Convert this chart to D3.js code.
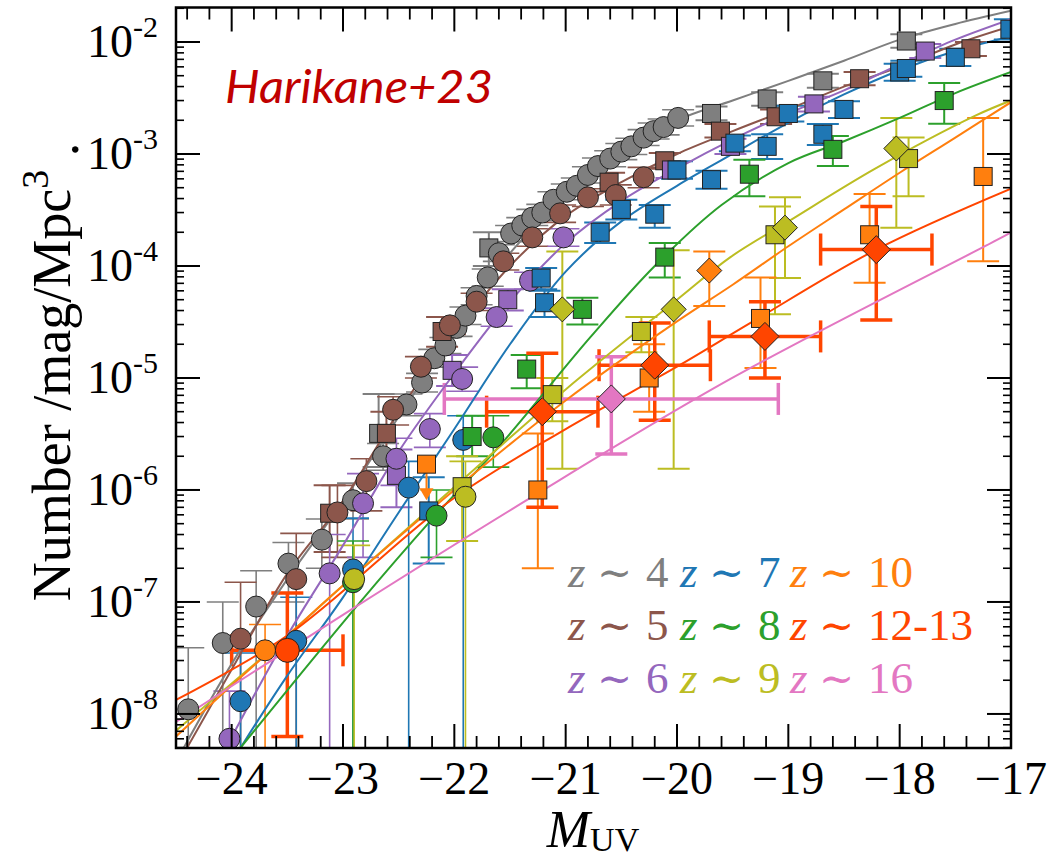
<!DOCTYPE html>
<html>
<head>
<meta charset="utf-8">
<script src="https://cdn.jsdelivr.net/npm/d3@7"></script>
<style>
  body { margin: 0; background: #fff; }
  svg { display: block; }
</style>
</head>
<body>
<svg id="chart" width="1051" height="860"></svg>
<script>
// UV luminosity functions, z~4 to z~16
// rows: [M_UV, phi, phi_lo, phi_hi]  (phi_lo = 0 -> bar runs off the bottom)

const z4Circles = [
  [-24.39, 1.1e-8, 0, 3.9e-8], [-24.08, 4.3e-8, 0, 1.0e-7], [-23.78, 9.1e-8, 0, 1.9e-7],
  [-23.49, 2.2e-7, 1.0e-7, 3.4e-7], [-23.19, 3.6e-7, 2.0e-7, 5.5e-7], [-22.91, 8.1e-7, 5.5e-7, 1.15e-6],
  [-22.64, 2.0e-6, 1.5e-6, 2.6e-6], [-22.43, 5.8e-6, 4.6e-6, 7.2e-6], [-22.29, 9.1e-6, 7.5e-6, 1.1e-5],
  [-22.18, 1.5e-5, 1.25e-5, 1.8e-5], [-22.08, 1.95e-5, 1.65e-5, 2.3e-5], [-21.98, 2.8e-5, 2.35e-5, 3.3e-5],
  [-21.90, 3.6e-5, 3.0e-5, 4.3e-5], [-21.80, 5.4e-5, 4.5e-5, 6.4e-5], [-21.70, 7.9e-5, 6.6e-5, 9.4e-5],
  [-21.60, 1.3e-4, 1.1e-4, 1.55e-4], [-21.49, 1.95e-4, 1.65e-4, 2.3e-4], [-21.39, 2.3e-4, 1.95e-4, 2.7e-4],
  [-21.30, 2.7e-4, 2.3e-4, 3.2e-4], [-21.21, 3.0e-4, 2.55e-4, 3.55e-4], [-21.11, 3.9e-4, 3.3e-4, 4.6e-4],
  [-20.99, 4.6e-4, 3.9e-4, 5.4e-4], [-20.90, 5.2e-4, 4.4e-4, 6.1e-4], [-20.80, 6.5e-4, 5.5e-4, 7.7e-4],
  [-20.71, 7.8e-4, 6.6e-4, 9.2e-4], [-20.60, 9.1e-4, 7.7e-4, 1.07e-3], [-20.50, 1.05e-3, 8.9e-4, 1.24e-3],
  [-20.41, 1.17e-3, 9.9e-4, 1.38e-3], [-20.30, 1.4e-3, 1.19e-3, 1.65e-3], [-20.21, 1.6e-3, 1.36e-3, 1.89e-3],
  [-20.12, 1.74e-3, 1.48e-3, 2.05e-3], [-19.99, 2.1e-3, 1.78e-3, 2.48e-3]
];
const z4Squares = [
  [-22.68, 3.2e-6, 1.6e-6, 7.2e-6], [-21.69, 1.45e-4, 1.0e-4, 2.0e-4], [-19.69, 2.3e-3, 2.0e-3, 2.65e-3],
  [-19.19, 3.1e-3, 2.7e-3, 3.55e-3], [-18.69, 4.5e-3, 3.9e-3, 5.2e-3], [-17.94, 1.02e-2, 8.9e-3, 1.17e-2]
];

const z5Circles = [
  [-23.92, 4.7e-8, 0, 1.5e-7], [-23.42, 1.6e-7, 0, 4.1e-7], [-23.05, 6.3e-7, 2.5e-7, 1.1e-6],
  [-22.79, 1.2e-6, 6.5e-7, 1.9e-6], [-22.55, 5.2e-6, 3.8e-6, 6.8e-6], [-22.30, 1.26e-5, 1.0e-5, 1.55e-5],
  [-22.04, 2.95e-5, 2.45e-5, 3.5e-5], [-21.80, 4.8e-5, 4.0e-5, 5.7e-5], [-21.56, 1.1e-4, 9.2e-5, 1.3e-4],
  [-21.30, 1.8e-4, 1.5e-4, 2.15e-4], [-21.05, 2.95e-4, 2.45e-4, 3.5e-4], [-20.80, 4.1e-4, 3.4e-4, 4.9e-4],
  [-20.55, 4.3e-4, 3.5e-4, 5.3e-4], [-20.30, 6.2e-4, 5.0e-4, 7.6e-4]
];
const z5Squares = [
  [-23.12, 6.2e-7, 2.8e-7, 1.1e-6], [-22.61, 3.2e-6, 1.9e-6, 5.0e-6], [-22.11, 2.6e-5, 1.9e-5, 3.5e-5],
  [-20.61, 5.6e-4, 4.6e-4, 6.8e-4], [-20.11, 8.7e-4, 7.4e-4, 1.02e-3], [-19.61, 1.6e-3, 1.4e-3, 1.85e-3],
  [-19.11, 2.15e-3, 1.85e-3, 2.5e-3], [-18.36, 4.7e-3, 4.1e-3, 5.4e-3], [-17.36, 8.7e-3, 7.5e-3, 1.0e-2]
];

const z6Circles = [
  [-24.02, 6.0e-9, 0, 1.6e-8], [-23.12, 1.8e-7, 0, 4.0e-7], [-22.82, 7.6e-7, 2.5e-7, 1.4e-6],
  [-22.52, 1.9e-6, 1.1e-6, 2.9e-6], [-22.22, 3.5e-6, 2.4e-6, 4.8e-6], [-21.93, 9.8e-6, 7.6e-6, 1.25e-5],
  [-21.62, 3.5e-5, 2.9e-5, 4.2e-5], [-21.32, 7.4e-5, 6.2e-5, 8.8e-5], [-21.02, 1.8e-4, 1.5e-4, 2.15e-4]
];
const z6Squares = [
  [-22.52, 1.35e-6, 7e-7, 2.3e-6], [-22.02, 1.17e-5, 8.5e-6, 1.6e-5], [-21.52, 5.0e-5, 4.0e-5, 6.2e-5],
  [-20.05, 7.2e-4, 6.1e-4, 8.5e-4], [-19.52, 1.17e-3, 1.0e-3, 1.37e-3], [-18.77, 2.8e-3, 2.4e-3, 3.25e-3],
  [-17.77, 8.3e-3, 7.2e-3, 9.6e-3]
];

const z7Circles = [
  [-23.92, 1.3e-8, 0, 3.5e-8], [-23.42, 4.5e-8, 0, 1.1e-7], [-22.91, 1.95e-7, 0, 5.6e-7],
  [-22.41, 1.05e-6, 0, 1.8e-6], [-21.92, 2.8e-6, 0, 4.6e-6]
];
const z7Squares = [
  [-22.23, 6.5e-7, 2.2e-7, 1.3e-6], [-21.22, 7.8e-5, 6.2e-5, 9.6e-5], [-21.19, 4.7e-5, 3.5e-5, 6.0e-5],
  [-20.69, 2.0e-4, 1.6e-4, 2.45e-4], [-20.50, 3.2e-4, 2.6e-4, 3.9e-4], [-20.20, 2.9e-4, 2.2e-4, 3.5e-4],
  [-20.00, 7.2e-4, 6.0e-4, 8.6e-4], [-19.69, 5.9e-4, 4.9e-4, 7.1e-4], [-19.48, 1.25e-3, 1.06e-3, 1.46e-3],
  [-19.19, 1.17e-3, 9.0e-4, 1.5e-3], [-19.00, 2.3e-3, 1.95e-3, 2.7e-3], [-18.69, 1.5e-3, 1.2e-3, 1.85e-3],
  [-18.50, 2.5e-3, 2.1e-3, 2.95e-3], [-18.00, 5.4e-3, 4.5e-3, 6.4e-3], [-17.94, 5.8e-3, 4.9e-3, 6.8e-3],
  [-17.50, 7.3e-3, 6.1e-3, 8.7e-3], [-17.01, 1.3e-2, 1.05e-2, 1.6e-2]
];

const z8Circles = [
  [-22.91, 1.5e-7, 0, 3.5e-7], [-22.16, 5.9e-7, 2.5e-7, 1.0e-6], [-21.65, 2.95e-6, 1.6e-6, 4.6e-6]
];
const z8Squares = [
  [-21.84, 3.0e-6, 2.0e-6, 4.6e-6], [-21.35, 1.2e-5, 8.1e-6, 1.6e-5], [-20.85, 4.1e-5, 3.0e-5, 5.2e-5],
  [-20.11, 1.2e-4, 7.9e-5, 1.6e-4], [-19.35, 6.6e-4, 4.2e-4, 8.9e-4], [-18.60, 1.1e-3, 7.8e-4, 1.45e-3],
  [-17.60, 3.0e-3, 1.86e-3, 4.3e-3]
];

const z9Circles = [
  [-22.90, 1.6e-7, 0, 3.2e-7], [-21.90, 8.7e-7, 0, 1.8e-6]
];
const z9Squares = [
  [-21.93, 1.07e-6, 3.5e-7, 2.0e-6], [-21.12, 7.1e-6, 4.1e-6, 1.0e-5], [-20.32, 2.6e-5, 1.7e-5, 3.5e-5],
  [-19.12, 1.9e-4, 3.7e-5, 3.4e-4], [-17.92, 9.1e-4, 4.2e-4, 1.4e-3]
];
const z9Diamonds = [
  [-21.03, 4.1e-5, 1.55e-6, 1.35e-4], [-20.03, 4.1e-5, 1.55e-6, 1.38e-4],
  [-19.03, 2.2e-4, 7.8e-5, 4.1e-4], [-18.03, 1.12e-3, 2.2e-4, 2.1e-3]
];

const z10Circles = [[-23.70, 3.7e-8, 0, 6.3e-8]];
const z10Squares = [
  [-21.25, 1.0e-6, 2.0e-7, 3.2e-6], [-20.25, 1.0e-5, 5.0e-6, 2.0e-5], [-19.25, 3.4e-5, 1.23e-5, 7.9e-5],
  [-18.27, 1.9e-4, 7.1e-5, 4.4e-4], [-17.25, 6.3e-4, 1.1e-4, 2.1e-3]
];
const z10Limits = [[-22.25, 1.7e-6]];
const z10Diamonds = [[-19.71, 9.1e-5, 4.4e-5, 1.35e-4]];

// z~12-13 and z~16 carry a +/- dM bin half-width as fifth column
const z12Circles = [[-23.50, 3.7e-8, 6.3e-9, 1.2e-7, 0.5]];
const z12Diamonds = [
  [-21.21, 5.0e-6, 7.0e-7, 1.66e-5, 0.5], [-20.20, 1.3e-5, 4.2e-6, 3.1e-5, 0.5],
  [-19.21, 2.35e-5, 1.0e-5, 4.8e-5, 0.5], [-18.21, 1.4e-4, 3.3e-5, 3.4e-4, 0.5]
];
const z16Diamonds = [[-20.59, 6.5e-6, 2.1e-6, 1.55e-5, 1.5]];

// best-fit functions, [M_UV, phi]
const z4Fit = [[-24.43, 5.0e-9], [-24.0, 2.8e-8], [-23.5, 1.6e-7], [-23.0, 7.9e-7], [-22.5, 4.5e-6],
  [-22.0, 2.5e-5], [-21.5, 1.3e-4], [-21.0, 4.2e-4], [-20.5, 1.0e-3], [-20.0, 2.0e-3], [-19.5, 3.0e-3],
  [-19.0, 4.5e-3], [-18.5, 6.8e-3], [-18.0, 1.05e-2], [-17.5, 1.45e-2], [-17.0, 1.9e-2]];
const z5Fit = [[-24.4, 5.0e-9], [-24.0, 2.5e-8], [-23.5, 1.8e-7], [-23.0, 8.0e-7], [-22.5, 5.0e-6],
  [-22.0, 2.5e-5], [-21.5, 1.0e-4], [-21.0, 2.8e-4], [-20.5, 5.6e-4], [-20.0, 1.0e-3], [-19.5, 1.6e-3],
  [-19.0, 2.5e-3], [-18.5, 4.0e-3], [-18.0, 6.0e-3], [-17.5, 9.5e-3], [-17.0, 1.38e-2]];
const z6Fit = [[-24.05, 5.0e-9], [-23.5, 5.0e-8], [-23.0, 3.2e-7], [-22.5, 2.2e-6], [-22.0, 1.1e-5],
  [-21.5, 4.8e-5], [-21.0, 1.6e-4], [-20.5, 3.8e-4], [-20.0, 7.4e-4], [-19.5, 1.35e-3], [-19.0, 2.3e-3],
  [-18.5, 3.7e-3], [-18.0, 6.3e-3], [-17.5, 1.05e-2], [-17.0, 1.6e-2]];
const z7Fit = [[-23.92, 5.0e-9], [-23.5, 2.2e-8], [-23.0, 1.1e-7], [-22.5, 6.3e-7], [-22.0, 3.5e-6],
  [-21.5, 2.0e-5], [-21.0, 8.9e-5], [-20.5, 2.5e-4], [-20.0, 5.2e-4], [-19.5, 1.0e-3], [-19.0, 1.9e-3],
  [-18.5, 3.4e-3], [-18.0, 5.6e-3], [-17.5, 8.3e-3], [-17.0, 1.12e-2]];
const z8Fit = [[-23.92, 5.0e-9], [-22.88, 9.1e-8], [-22.2, 5.5e-7], [-21.59, 2.5e-6], [-20.78, 2.3e-5],
  [-20.2, 1.0e-4], [-19.6, 3.5e-4], [-19.0, 8.3e-4], [-18.5, 1.3e-3], [-18.0, 2.1e-3], [-17.5, 3.5e-3],
  [-17.0, 5.4e-3]];
const z9Fit = [[-24.5, 7.1e-9], [-23.5, 5.0e-8], [-23.0, 1.4e-7], [-22.03, 1.0e-6], [-21.0, 7.9e-6],
  [-20.0, 5.0e-5], [-19.52, 1.2e-4], [-19.0, 2.5e-4], [-18.22, 7.4e-4], [-17.32, 2.2e-3], [-17.0, 3.0e-3]];
const z10Fit = [[-24.5, 6.3e-9], [-24.0, 1.8e-8], [-23.5, 5.0e-8], [-23.0, 1.4e-7], [-22.0, 1.0e-6],
  [-21.0, 6.3e-6], [-20.0, 3.2e-5], [-19.5, 6.8e-5], [-19.0, 1.5e-4], [-18.5, 3.2e-4], [-18.0, 6.8e-4],
  [-17.5, 1.4e-3], [-17.0, 2.9e-3]];
const z12Fit = [[-24.55, 1.26e-8], [-23.5, 5.0e-8], [-22.03, 8.1e-7], [-21.0, 3.5e-6], [-20.0, 1.26e-5],
  [-19.34, 3.1e-5], [-18.21, 1.4e-4], [-17.0, 4.9e-4]];
const z16Fit = [[-24.55, 7.9e-9], [-22.93, 8.5e-8], [-21.35, 8.1e-7], [-19.52, 9.8e-6], [-17.13, 1.7e-4],
  [-17.0, 2.0e-4]];

const zLabels = ["4", "5", "6", "7", "8", "9", "10", "12-13", "16"];
const zColors = ["#7f7f7f", "#8c564b", "#9467bd", "#1f77b4", "#2ca02c", "#bcbd22", "#ff7f0e", "#ff4500", "#e377c2"];

const xMajorTicks = [-24, -23, -22, -21, -20, -19, -18, -17];
const yMajorExps = [-8, -7, -6, -5, -4, -3, -2];

// per-redshift bundle, drawn in this order (higher z on top)
const series = [
  { circles: z4Circles, squares: z4Squares, fit: z4Fit },
  { circles: z5Circles, squares: z5Squares, fit: z5Fit },
  { circles: z6Circles, squares: z6Squares, fit: z6Fit },
  { circles: z7Circles, squares: z7Squares, fit: z7Fit },
  { circles: z8Circles, squares: z8Squares, fit: z8Fit },
  { circles: z9Circles, squares: z9Squares, diamonds: z9Diamonds, fit: z9Fit },
  { circles: z10Circles, squares: z10Squares, diamonds: z10Diamonds, limits: z10Limits, fit: z10Fit },
  { circles: z12Circles, diamonds: z12Diamonds, fit: z12Fit, thick: true },
  { diamonds: z16Diamonds, fit: z16Fit, thick: true }
].map((s, i) => Object.assign(s, { label: zLabels[i], color: zColors[i] }));

const plot = { left: 176, right: 1011, top: 7.5, bottom: 748 };

const svg = d3.select("#chart");

const x = d3.scaleLinear().domain([-24.5, -17]).range([plot.left, plot.right]);
const y = d3.scaleLog().domain([Math.pow(10, -8.304), Math.pow(10, -1.692)]).range([plot.bottom, plot.top]);

svg.append("defs").append("clipPath").attr("id", "plotClip")
  .append("rect")
  .attr("x", plot.left).attr("y", plot.top)
  .attr("width", plot.right - plot.left).attr("height", plot.bottom - plot.top);

const layer = svg.append("g").attr("clip-path", "url(#plotClip)");

const yOf = v => (v > 0 ? y(v) : plot.bottom + 20);

function drawErrorBars(g, rows, color, width, cap) {
  rows.forEach(r => {
    const cx = x(r[0]);
    const y0 = yOf(r[2]), y1 = yOf(r[3]);
    g.append("line").attr("x1", cx).attr("x2", cx).attr("y1", y1).attr("y2", y0)
      .attr("stroke", color).attr("stroke-width", width);
    g.append("line").attr("x1", cx - cap).attr("x2", cx + cap).attr("y1", y1).attr("y2", y1)
      .attr("stroke", color).attr("stroke-width", width);
    if (r[2] > 0) {
      g.append("line").attr("x1", cx - cap).attr("x2", cx + cap).attr("y1", y0).attr("y2", y0)
        .attr("stroke", color).attr("stroke-width", width);
    }
    if (r[4]) {
      const xl = x(r[0] - r[4]), xr = x(r[0] + r[4]), cy = y(r[1]);
      g.append("line").attr("x1", xl).attr("x2", xr).attr("y1", cy).attr("y2", cy)
        .attr("stroke", color).attr("stroke-width", width);
      [xl, xr].forEach(xx => g.append("line").attr("x1", xx).attr("x2", xx)
        .attr("y1", cy - cap).attr("y2", cy + cap)
        .attr("stroke", color).attr("stroke-width", width));
    }
  });
}

// error bars
series.forEach(s => {
  const g = layer.append("g");
  const w = s.thick ? 3.5 : 2;
  ["circles", "squares", "diamonds"].forEach(k => {
    if (s[k]) drawErrorBars(g, s[k], s.color, k === "circles" && !s.thick ? 1.6 : w, 16);
  });
  (s.limits || []).forEach(r => {
    const cx = x(r[0]), cy = y(r[1]);
    g.append("line").attr("x1", cx).attr("x2", cx).attr("y1", cy).attr("y2", cy + 26)
      .attr("stroke", s.color).attr("stroke-width", 2);
    g.append("path").attr("d", `M${cx - 7},${cy + 24} L${cx + 7},${cy + 24} L${cx},${cy + 36} Z`)
      .attr("fill", s.color);
  });
});

// fit curves
const fitLine = d3.line().x(d => x(d[0])).y(d => y(d[1])).curve(d3.curveCatmullRom.alpha(0.5));
series.forEach(s => {
  layer.append("path").datum(s.fit).attr("d", fitLine)
    .attr("fill", "none").attr("stroke", s.color).attr("stroke-width", 2);
});

// markers
series.forEach(s => {
  const g = layer.append("g").attr("stroke", "#222").attr("stroke-width", 1).attr("fill", s.color);
  (s.squares || []).forEach(r => g.append("rect")
    .attr("x", x(r[0]) - 9).attr("y", y(r[1]) - 9).attr("width", 18).attr("height", 18));
  (s.limits || []).forEach(r => g.append("rect")
    .attr("x", x(r[0]) - 9).attr("y", y(r[1]) - 9).attr("width", 18).attr("height", 18));
  (s.circles || []).forEach(r => g.append("circle")
    .attr("cx", x(r[0])).attr("cy", y(r[1])).attr("r", s.thick ? 12 : 10.5));
  (s.diamonds || []).forEach(r => {
    const cx = x(r[0]), cy = y(r[1]), h = s.thick ? 14 : 12.5;
    g.append("path").attr("d", `M${cx},${cy - h} L${cx + h},${cy} L${cx},${cy + h} L${cx - h},${cy} Z`);
  });
});

// frame and ticks
const axes = svg.append("g").attr("stroke", "#000");
const xMinor = d3.range(-24.4, -17.01, 0.2).filter(v => Math.abs(v - Math.round(v)) > 0.01);
xMajorTicks.forEach(v => {
  const px = x(v);
  axes.append("line").attr("x1", px).attr("x2", px).attr("y1", plot.bottom).attr("y2", plot.bottom - 24).attr("stroke-width", 2);
  axes.append("line").attr("x1", px).attr("x2", px).attr("y1", plot.top).attr("y2", plot.top + 24).attr("stroke-width", 2);
});
xMinor.forEach(v => {
  const px = x(v);
  axes.append("line").attr("x1", px).attr("x2", px).attr("y1", plot.bottom).attr("y2", plot.bottom - 12).attr("stroke-width", 1.8);
  axes.append("line").attr("x1", px).attr("x2", px).attr("y1", plot.top).attr("y2", plot.top + 12).attr("stroke-width", 1.8);
});
const yMinor = [];
d3.range(-9, -1).forEach(e => d3.range(2, 10).forEach(k => {
  const v = k * Math.pow(10, e);
  if (v > y.domain()[0] && v < y.domain()[1]) yMinor.push(v);
}));
yMajorExps.forEach(e => {
  const py = y(Math.pow(10, e));
  axes.append("line").attr("x1", plot.left).attr("x2", plot.left + 24).attr("y1", py).attr("y2", py).attr("stroke-width", 2);
  axes.append("line").attr("x1", plot.right).attr("x2", plot.right - 24).attr("y1", py).attr("y2", py).attr("stroke-width", 2);
});
yMinor.forEach(v => {
  const py = y(v);
  axes.append("line").attr("x1", plot.left).attr("x2", plot.left + 8).attr("y1", py).attr("y2", py).attr("stroke-width", 1.6);
  axes.append("line").attr("x1", plot.right).attr("x2", plot.right - 8).attr("y1", py).attr("y2", py).attr("stroke-width", 1.6);
});
axes.append("rect").attr("x", plot.left).attr("y", plot.top)
  .attr("width", plot.right - plot.left).attr("height", plot.bottom - plot.top)
  .attr("fill", "none").attr("stroke-width", 2.5);

// tick labels
const serif = "Liberation Serif, Times New Roman, Times, serif";
xMajorTicks.forEach(v => {
  svg.append("text").attr("x", x(v)).attr("y", 794).attr("text-anchor", "middle")
    .attr("font-family", serif).attr("font-size", 46).text("\u2212" + Math.abs(v));
});
yMajorExps.forEach(e => {
  const t = svg.append("text").attr("x", 158).attr("y", y(Math.pow(10, e)) + 15)
    .attr("text-anchor", "end").attr("font-family", serif).attr("font-size", 46);
  t.append("tspan").text("10");
  t.append("tspan").attr("dy", -20).attr("font-size", 30).text(String(e));
});

// axis titles
const xt = svg.append("text").attr("x", 593).attr("y", 847).attr("text-anchor", "middle")
  .attr("font-family", serif).attr("font-size", 52);
xt.append("tspan").attr("font-style", "italic").text("M");
xt.append("tspan").attr("font-size", 34).attr("dy", 4).text("UV");

const yt = svg.append("text").attr("transform", "translate(70,372) rotate(-90)")
  .attr("text-anchor", "middle").attr("font-family", serif).attr("font-size", 54);
yt.append("tspan").text("Number /mag/Mpc");
yt.append("tspan").attr("font-size", 38).attr("dy", -22).text("3");
yt.append("tspan").attr("dy", 30).text(" .");

// reference tag
svg.append("text").attr("x", 225).attr("y", 103)
  .attr("font-family", "Lato, 'Open Sans', sans-serif").attr("font-style", "italic")
  .attr("font-size", 46).attr("fill", "#c00000")
  .attr("textLength", 268).attr("lengthAdjust", "spacingAndGlyphs")
  .text("Harikane+23");

// redshift legend, three columns of three
const legendCols = [568, 680, 790];
const legendRows = [587, 640, 693];
series.forEach((s, i) => {
  const lx = legendCols[Math.floor(i / 3)], ly = legendRows[i % 3];
  const t = svg.append("text").attr("y", ly).attr("fill", s.color).attr("font-size", 45);
  t.append("tspan").attr("x", lx).attr("font-family", serif).attr("font-style", "italic").text("z");
  t.append("tspan").attr("x", lx + 29).attr("font-family", "DejaVu Serif, serif").attr("font-size", 42).text("\u223C");
  t.append("tspan").attr("x", lx + 78).attr("font-family", serif).text(s.label);
});
</script>
</body>
</html>
